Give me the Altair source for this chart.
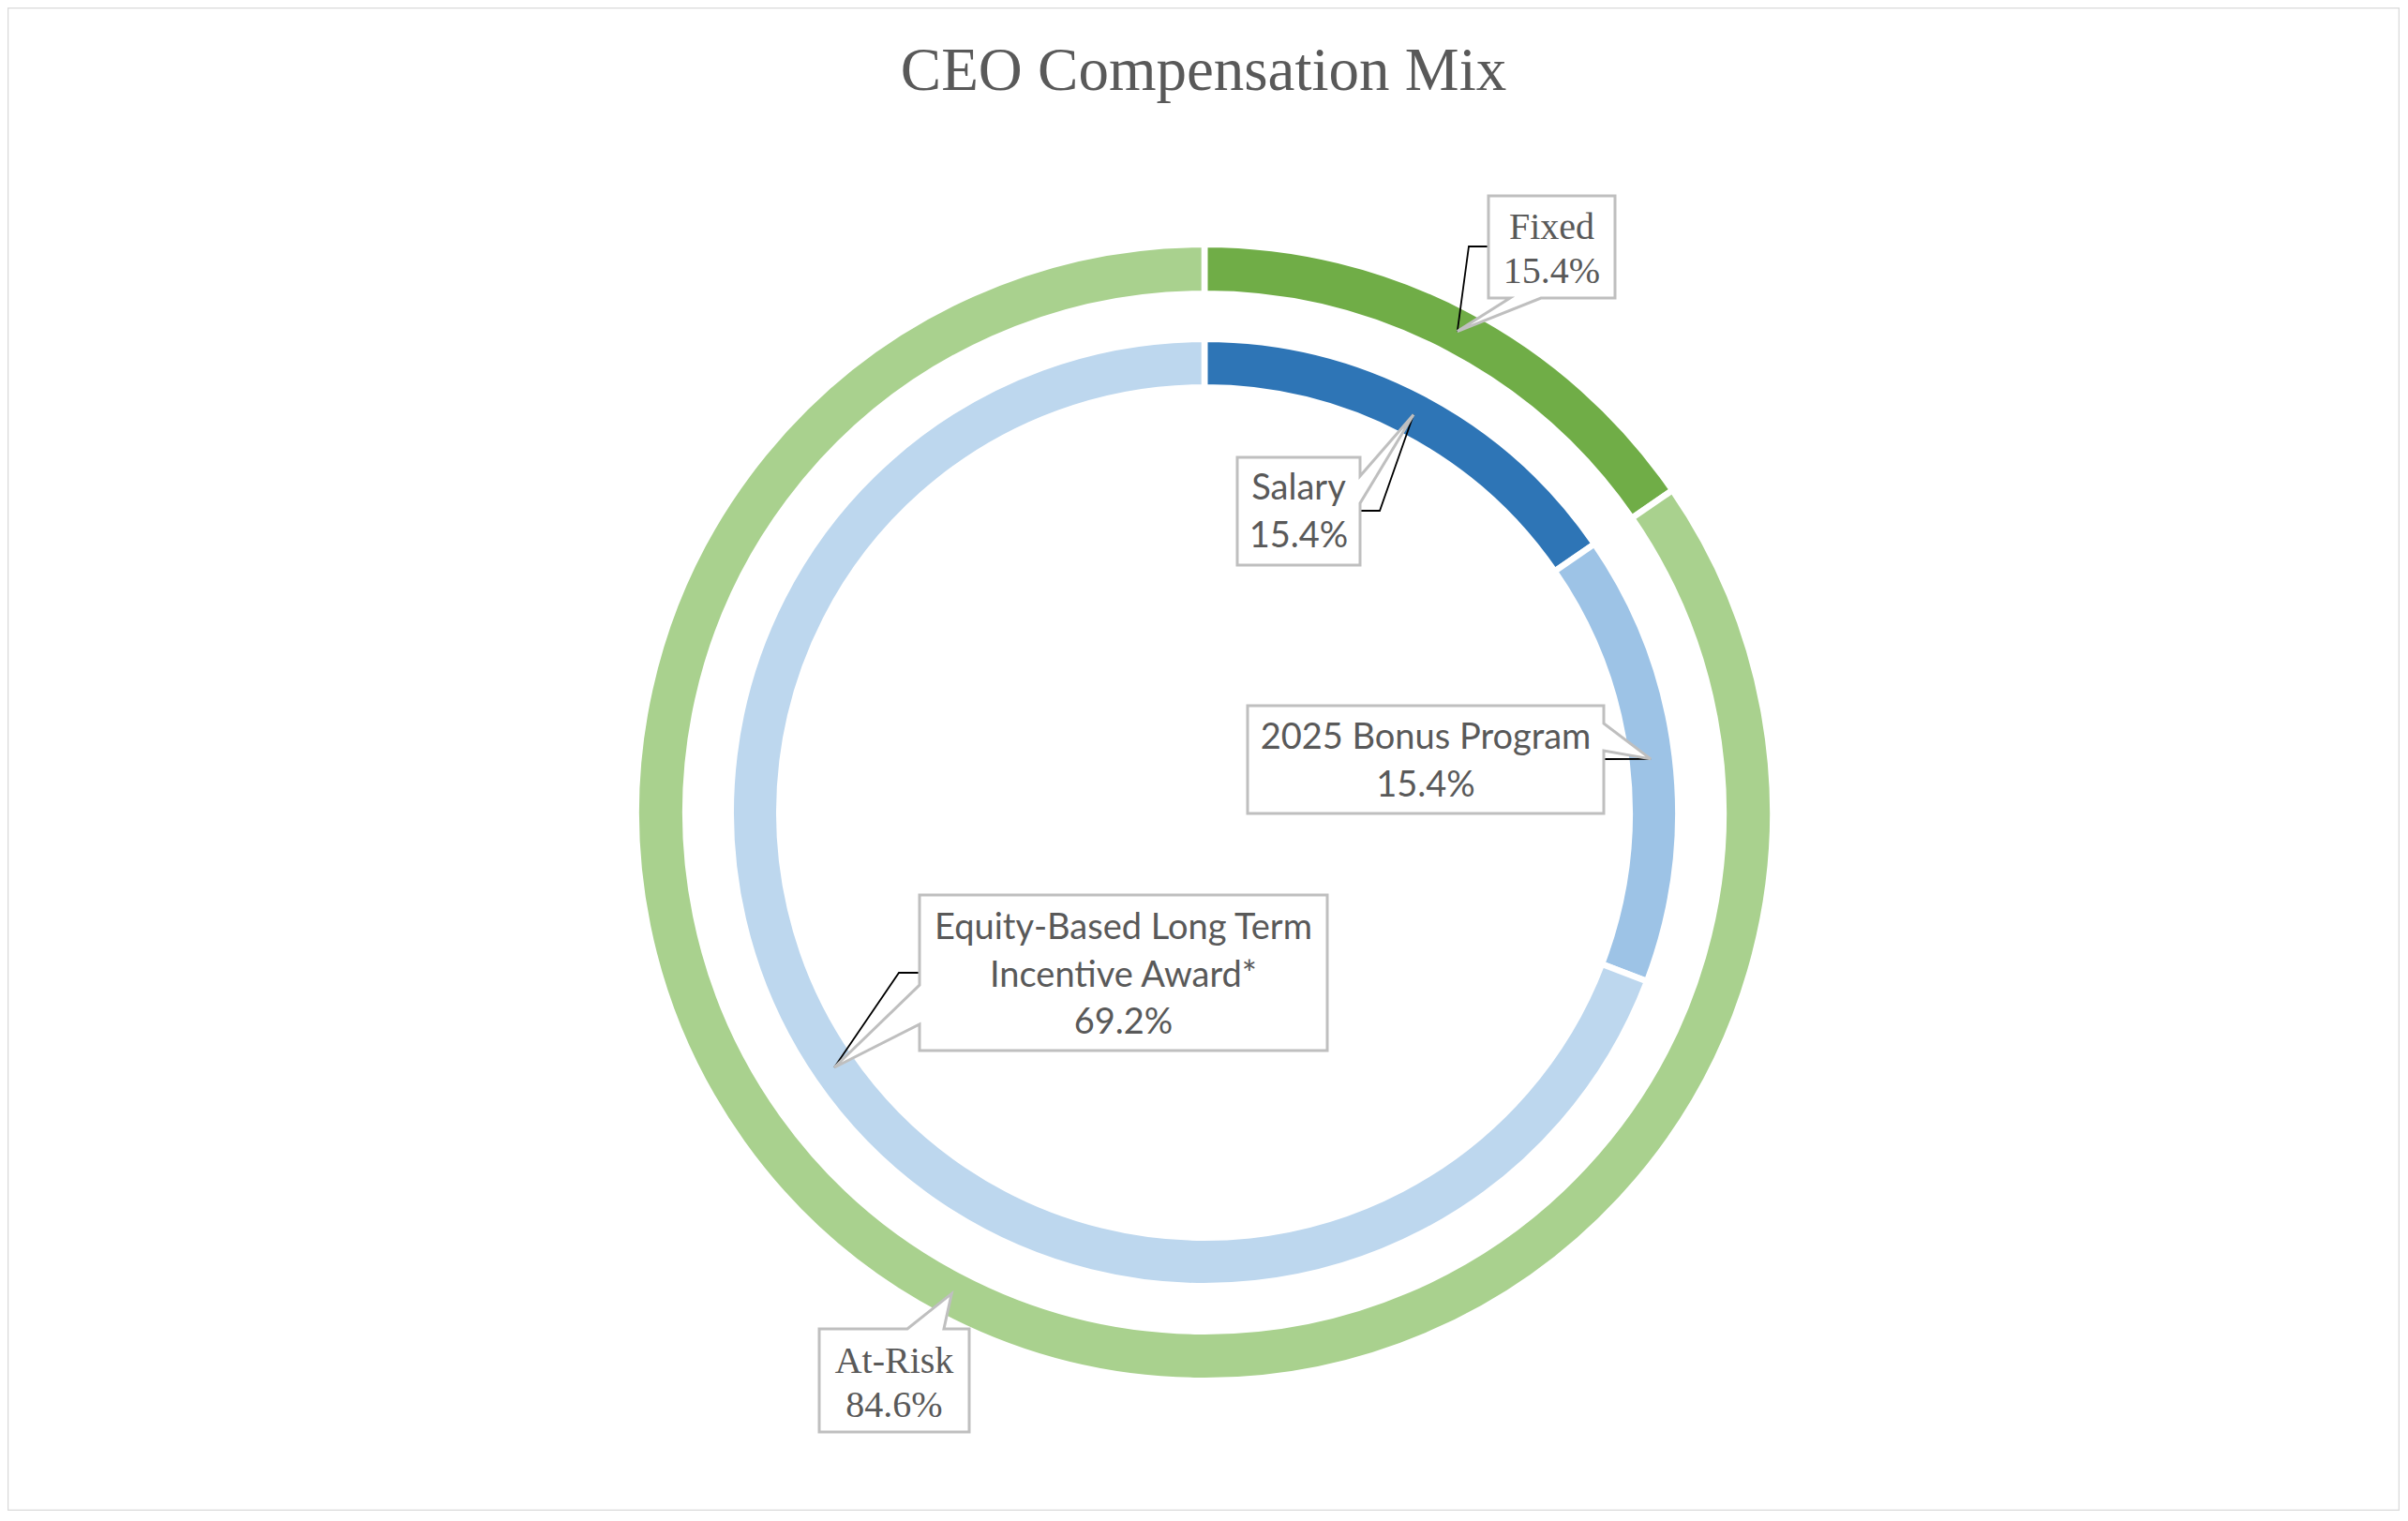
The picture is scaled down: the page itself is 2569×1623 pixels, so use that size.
import math
import altair as alt
import pandas as pd

# ---------------- data ----------------
title_text = "CEO Compensation Mix"

outer_categories = ["Fixed", "At-Risk"]
outer_values = [15.4, 84.6]

inner_categories = ["Salary", "2025 Bonus Program", "Equity-Based Long Term Incentive Award*"]
inner_values = [15.4, 15.4, 69.2]
inner_label_lines = [["Salary"], ["2025 Bonus Program"], ["Equity-Based Long Term", "Incentive Award*"]]
outer_label_lines = [["Fixed"], ["At-Risk"]]

# ---------------- styles / layout ----------------
outer_colors = ["#70AD47", "#A9D18E"]
inner_colors = ["#2E75B6", "#9DC3E6", "#BDD7EE"]
all_cats = outer_categories + inner_categories
all_colors = outer_colors + inner_colors

M = 8                      # page margin (reference pixel coords -> chart coords)
W, H = 2552, 1604
CX, CY = 1285 - M, 867 - M
GAP = 6.6                  # white separator width
OUTER_R = (557, 603)
INNER_R = (457, 502)
TEXT_COLOR = "#595959"
BOX_COLOR = "#BFBFBF"

# callout boxes (reference pixel coords): box, side of the pointer, pointer base, leader elbow points, first baseline
callouts = {
    "Fixed": dict(box=(1588, 209, 1723, 318), side="bottom", base=(1611, 1644),
                  leader=[(1588, 263), (1567, 263)], y=255, serif=True),
    "At-Risk": dict(box=(874, 1418, 1034, 1528), side="top", base=(968, 1007),
                    leader=None, y=1465, serif=True),
    "Salary": dict(box=(1320, 488, 1451, 603), side="right", base=(508, 537),
                   leader=[(1451, 545), (1472, 545)], y=533, serif=False),
    "2025 Bonus Program": dict(box=(1331, 753, 1711, 868), side="right", base=(772, 801),
                               leader=[(1711, 810)], y=799, serif=False),
    "Equity-Based Long Term Incentive Award*": dict(box=(981, 955, 1416, 1121), side="left", base=(1051, 1093),
                                                   leader=[(981, 1038), (959, 1038)], y=1002, serif=False),
}


def tips(cats, vals, radii):
    out = {}
    cum = 0.0
    total = sum(vals)
    rmid = (radii[0] + radii[1]) / 2
    for c, v in zip(cats, vals):
        a = 2 * math.pi * (cum + v / 2) / total
        out[c] = (1285 + rmid * math.sin(a), 867 - rmid * math.cos(a))
        cum += v
    return out


tip_pts = {}
tip_pts.update(tips(outer_categories, outer_values, OUTER_R))
tip_pts.update(tips(inner_categories, inner_values, INNER_R))


def polygon(c):
    x0, y0, x1, y1 = callouts[c]["box"]
    a, b = callouts[c]["base"]
    t = tip_pts[c]
    side = callouts[c]["side"]
    if side == "bottom":
        pts = [(x0, y0), (x1, y0), (x1, y1), (b, y1), t, (a, y1), (x0, y1)]
    elif side == "top":
        pts = [(x0, y0), (a, y0), t, (b, y0), (x1, y0), (x1, y1), (x0, y1)]
    elif side == "right":
        pts = [(x0, y0), (x1, y0), (x1, a), t, (x1, b), (x1, y1), (x0, y1)]
    else:
        pts = [(x0, y0), (x1, y0), (x1, y1), (x0, y1), (x0, b), t, (x0, a)]
    return pts


poly_rows, lead_rows, serif_rows, sans_rows = [], [], [], []
label_lines = dict(zip(outer_categories, outer_label_lines))
label_lines.update(dict(zip(inner_categories, inner_label_lines)))
values = dict(zip(outer_categories, outer_values))
values.update(dict(zip(inner_categories, inner_values)))

for c, spec in callouts.items():
    for i, (px, py) in enumerate(polygon(c)):
        poly_rows.append({"id": c, "seq": i, "x": px - M, "y": py - M})
    if spec["leader"]:
        for i, (px, py) in enumerate(spec["leader"] + [tip_pts[c]]):
            lead_rows.append({"id": c, "seq": i, "x": px - M, "y": py - M})
    x0, y0, x1, y1 = spec["box"]
    txt = "\n".join(label_lines[c] + [f"{values[c]:.1f}%"])
    row = {"id": c, "x": (x0 + x1) / 2 - M, "y": spec["y"] - M, "text": txt}
    (serif_rows if spec["serif"] else sans_rows).append(row)

outer_df = pd.DataFrame({"category": outer_categories, "value": outer_values,
                         "idx": list(range(len(outer_categories)))})
inner_df = pd.DataFrame({"category": inner_categories, "value": inner_values,
                         "idx": list(range(len(inner_categories)))})

color = alt.Color("category:N", scale=alt.Scale(domain=all_cats, range=all_colors), legend=None)


def ring(df, radii):
    return alt.Chart(df).mark_arc(stroke="white", strokeWidth=GAP).encode(
        theta=alt.Theta("value:Q", stack=True),
        order=alt.Order("idx:Q", sort="ascending"),
        color=color,
        x=alt.value(CX), y=alt.value(CY),
        radius=alt.value(radii[1] + GAP / 2),
        radius2=alt.value(radii[0] - GAP / 2),
    )


px = alt.X("x:Q", scale=None, axis=None)
py = alt.Y("y:Q", scale=None, axis=None)

leaders = alt.Chart(pd.DataFrame(lead_rows)).mark_line(color="black", strokeWidth=1.8).encode(
    x=px, y=py, detail="id:N", order="seq:Q")

boxes = alt.Chart(pd.DataFrame(poly_rows)).mark_line(
    interpolate="linear-closed", fill="white", stroke=BOX_COLOR, strokeWidth=3
).encode(x=px, y=py, detail="id:N", order="seq:Q")

serif_text = alt.Chart(pd.DataFrame(serif_rows)).mark_text(
    font="Liberation Serif", fontSize=40, color=TEXT_COLOR, align="center",
    baseline="alphabetic", lineBreak="\n", lineHeight=47
).encode(x=px, y=py, text="text:N")

sans_text = alt.Chart(pd.DataFrame(sans_rows)).mark_text(
    font="Lato", fontSize=38, color=TEXT_COLOR, align="center",
    baseline="alphabetic", lineBreak="\n", lineHeight=50.5
).encode(x=px, y=py, text="text:N")

title = alt.Chart(pd.DataFrame({"t": [title_text]})).mark_text(
    font="Liberation Serif", fontSize=65, color=TEXT_COLOR, align="center", baseline="alphabetic"
).encode(x=alt.value(1284 - M), y=alt.value(96 - M), text="t:N")

chart = alt.layer(
    ring(outer_df, OUTER_R), ring(inner_df, INNER_R), leaders, boxes, serif_text, sans_text, title
).properties(
    width=W, height=H, autosize=alt.AutoSizeParams(type="none"), padding=0
).configure_view(stroke="#D9D9D9", strokeWidth=2.5)

chart.save("out.html", embed_options={"renderer": "svg", "actions": False})
